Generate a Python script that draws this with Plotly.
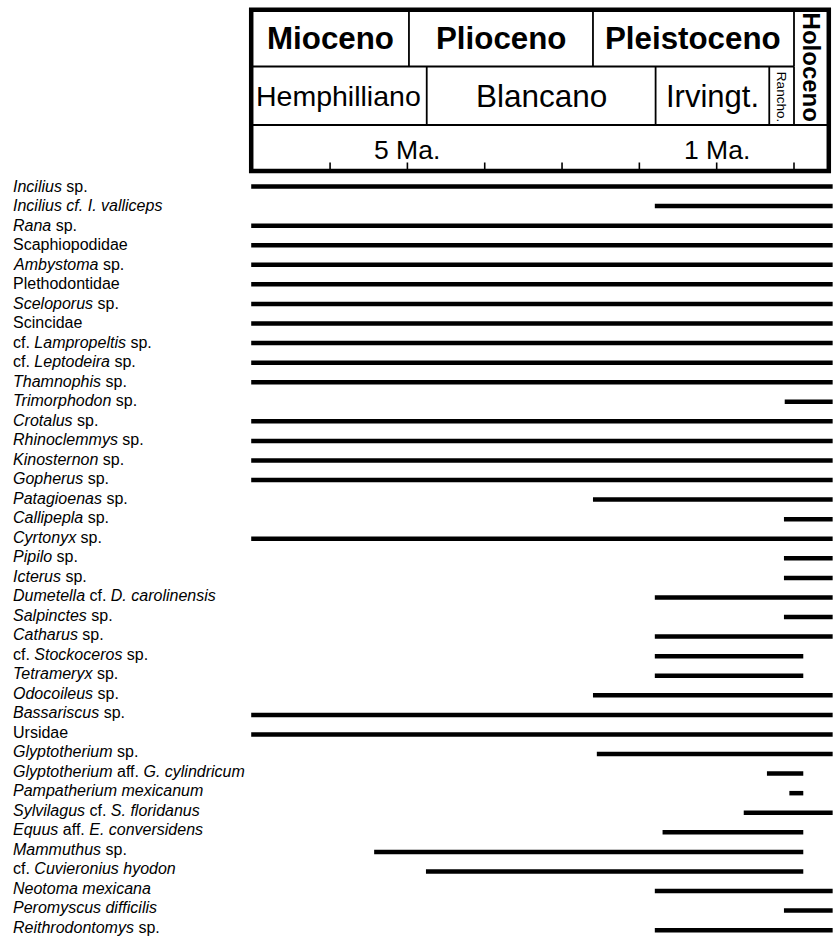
import plotly.graph_objects as go

# ---------------- data ----------------
taxa = [
    "<i>Incilius</i> sp.",
    "<i>Incilius cf. I. valliceps</i>",
    "<i>Rana</i> sp.",
    "Scaphiopodidae",
    "<i>Ambystoma</i> sp.",
    "Plethodontidae",
    "<i>Sceloporus</i> sp.",
    "Scincidae",
    "cf. <i>Lampropeltis</i> sp.",
    "cf. <i>Leptodeira</i> sp.",
    "<i>Thamnophis</i> sp.",
    "<i>Trimorphodon</i> sp.",
    "<i>Crotalus</i> sp.",
    "<i>Rhinoclemmys</i> sp.",
    "<i>Kinosternon</i> sp.",
    "<i>Gopherus</i> sp.",
    "<i>Patagioenas</i> sp.",
    "<i>Callipepla</i> sp.",
    "<i>Cyrtonyx</i> sp.",
    "<i>Pipilo</i> sp.",
    "<i>Icterus</i> sp.",
    "<i>Dumetella</i> cf. <i>D. carolinensis</i>",
    "<i>Salpinctes</i> sp.",
    "<i>Catharus</i> sp.",
    "cf. <i>Stockoceros</i> sp.",
    "<i>Tetrameryx</i> sp.",
    "<i>Odocoileus</i> sp.",
    "<i>Bassariscus</i> sp.",
    "Ursidae",
    "<i>Glyptotherium</i> sp.",
    "<i>Glyptotherium</i> aff. <i>G. cylindricum</i>",
    "<i>Pampatherium mexicanum</i>",
    "<i>Sylvilagus</i> cf. <i>S. floridanus</i>",
    "<i>Equus</i> aff. <i>E. conversidens</i>",
    "<i>Mammuthus</i> sp.",
    "cf. <i>Cuvieronius hyodon</i>",
    "<i>Neotoma mexicana</i>",
    "<i>Peromyscus difficilis</i>",
    "<i>Reithrodontomys</i> sp.",
]

# first / last appearance (Ma); negative end = range carried into the Holocene column
range_start = [7.02, 1.8, 7.02, 7.02, 7.02, 7.02, 7.02, 7.02, 7.02, 7.02,
               7.02, 0.12, 7.02, 7.02, 7.02, 7.02, 2.6, 0.13, 7.02, 0.13,
               0.13, 1.8, 0.13, 1.8, 1.8, 1.8, 2.6, 7.02, 7.02, 2.55,
               0.35, 0.06, 0.65, 1.7, 5.43, 4.76, 1.8, 0.13, 1.8]
range_end = [-0.5, -0.5, -0.5, -0.5, -0.5, -0.5, -0.5, -0.5, -0.5, -0.5,
             -0.5, -0.5, -0.5, -0.5, -0.5, -0.5, -0.5, -0.5, -0.5, -0.5,
             -0.5, -0.5, -0.5, -0.5, -0.12, -0.12, -0.5, -0.5, -0.5, -0.5,
             -0.12, -0.12, -0.5, -0.12, -0.12, -0.12, -0.5, -0.5, -0.5]

epochs = ["Mioceno", "Plioceno", "Pleistoceno"]
epoch_bounds = [7.02, 4.98, 2.6, 0.0]
holocene_bounds = [0.0, -0.45]
stages = ["Hemphilliano", "Blancano", "Irvingt.", "Rancho."]
stage_bounds = [7.02, 4.75, 1.79, 0.32, 0.0]
tick_ma = [6, 5, 4, 3, 2, 1, 0]
tick_labels = {5: "5 Ma.", 1: "1 Ma."}

# ---------------- figure ----------------
W, H = 833, 936
FONT = "Liberation Sans, Arial, Helvetica, sans-serif"


def py(ypx):
    """pixel row -> paper coordinate"""
    return 1 - ypx / H


rows = list(range(1, len(taxa) + 1))
fig = go.Figure()

xs, ys = [], []
for r, s, e in zip(rows, range_start, range_end):
    xs += [s, e, None]
    ys += [r, r, None]
fig.add_trace(go.Scatter(x=xs, y=ys, mode="lines",
                         line=dict(color="black", width=4.5),
                         hoverinfo="skip", showlegend=False))

annotations = []
for r, t in zip(rows, taxa):
    annotations.append(dict(x=11 / W, y=r, xref="paper", yref="y", text=t,
                            yshift=(r - 1) * 0.08,
                            showarrow=False, xanchor="left", yanchor="middle",
                            font=dict(family=FONT, size=16, color="black")))

shapes = []
top, d1, d2, bot = 9.8, 66.5, 125, 171
left_ma, right_ma = epoch_bounds[0], holocene_bounds[1]
thin = dict(color="black", width=1.8)

shapes.append(dict(type="line", xref="x", yref="paper", x0=left_ma, x1=epoch_bounds[-1],
                   y0=py(d1), y1=py(d1), line=thin))
shapes.append(dict(type="line", xref="x", yref="paper", x0=left_ma, x1=right_ma,
                   y0=py(d2), y1=py(d2), line=thin))
for b in epoch_bounds[1:]:
    shapes.append(dict(type="line", xref="x", yref="paper", x0=b, x1=b,
                       y0=py(top), y1=py(d1), line=thin))
for b in stage_bounds[1:]:
    shapes.append(dict(type="line", xref="x", yref="paper", x0=b, x1=b,
                       y0=py(d1), y1=py(d2), line=thin))
for t in tick_ma:
    shapes.append(dict(type="line", xref="x", yref="paper", x0=t, x1=t,
                       y0=py(162.5), y1=py(bot), line=dict(color="black", width=1.6)))
shapes.append(dict(type="rect", xref="x", yref="paper", x0=left_ma, x1=right_ma,
                   y0=py(bot), y1=py(top), line=dict(color="black", width=4.5)))

for name, a, b in zip(epochs, epoch_bounds[:-1], epoch_bounds[1:]):
    annotations.append(dict(x=(a + b) / 2, y=py(39), xref="x", yref="paper", text=f"<b>{name}</b>",
                            showarrow=False, xanchor="center", yanchor="middle",
                            font=dict(family=FONT, size=31.3, color="black")))
annotations.append(dict(x=sum(holocene_bounds) / 2, y=py(67), xref="x", yref="paper",
                        text="<b>Holoceno</b>", textangle=90, showarrow=False,
                        xanchor="center", yanchor="middle",
                        font=dict(family=FONT, size=24, color="black")))
stage_sizes = [28.5, 31.5, 31, 13.5]
for name, a, b, sz in zip(stages, stage_bounds[:-1], stage_bounds[1:], stage_sizes):
    ann = dict(x=(a + b) / 2, y=py(96.5), xref="x", yref="paper", text=name,
               showarrow=False, xanchor="center", yanchor="middle",
               font=dict(family=FONT, size=sz, color="black"))
    if name == "Rancho.":
        ann["textangle"] = 90
    annotations.append(ann)
for t, lab in tick_labels.items():
    annotations.append(dict(x=t, y=py(150), xref="x", yref="paper", text=lab,
                            showarrow=False, xanchor="center", yanchor="middle",
                            font=dict(family=FONT, size=26.5, color="black")))

# axis mapping (pixels): x_px = 794 - 77.32 * Ma
x0px = 794
x_left = x0px / 77.32
x_right = (x0px - W) / 77.32
row_px = 19.57
row1_px = 186.5
y_top = 1 - row1_px / row_px
y_bot = 1 + (H - row1_px) / row_px

fig.update_layout(
    width=W, height=H,
    margin=dict(l=0, r=0, t=0, b=0),
    paper_bgcolor="white", plot_bgcolor="white",
    xaxis=dict(range=[x_left, x_right], visible=False, fixedrange=True),
    yaxis=dict(range=[y_bot, y_top], visible=False, fixedrange=True),
    shapes=shapes, annotations=annotations,
    showlegend=False,
)

# remove the default 8px page margin so the 833x936 figure fills the window exactly
fig.write_html("out.html",
               config={"displayModeBar": False, "staticPlot": True},
               post_script="document.body.style.margin='0';document.body.style.overflow='hidden';")
